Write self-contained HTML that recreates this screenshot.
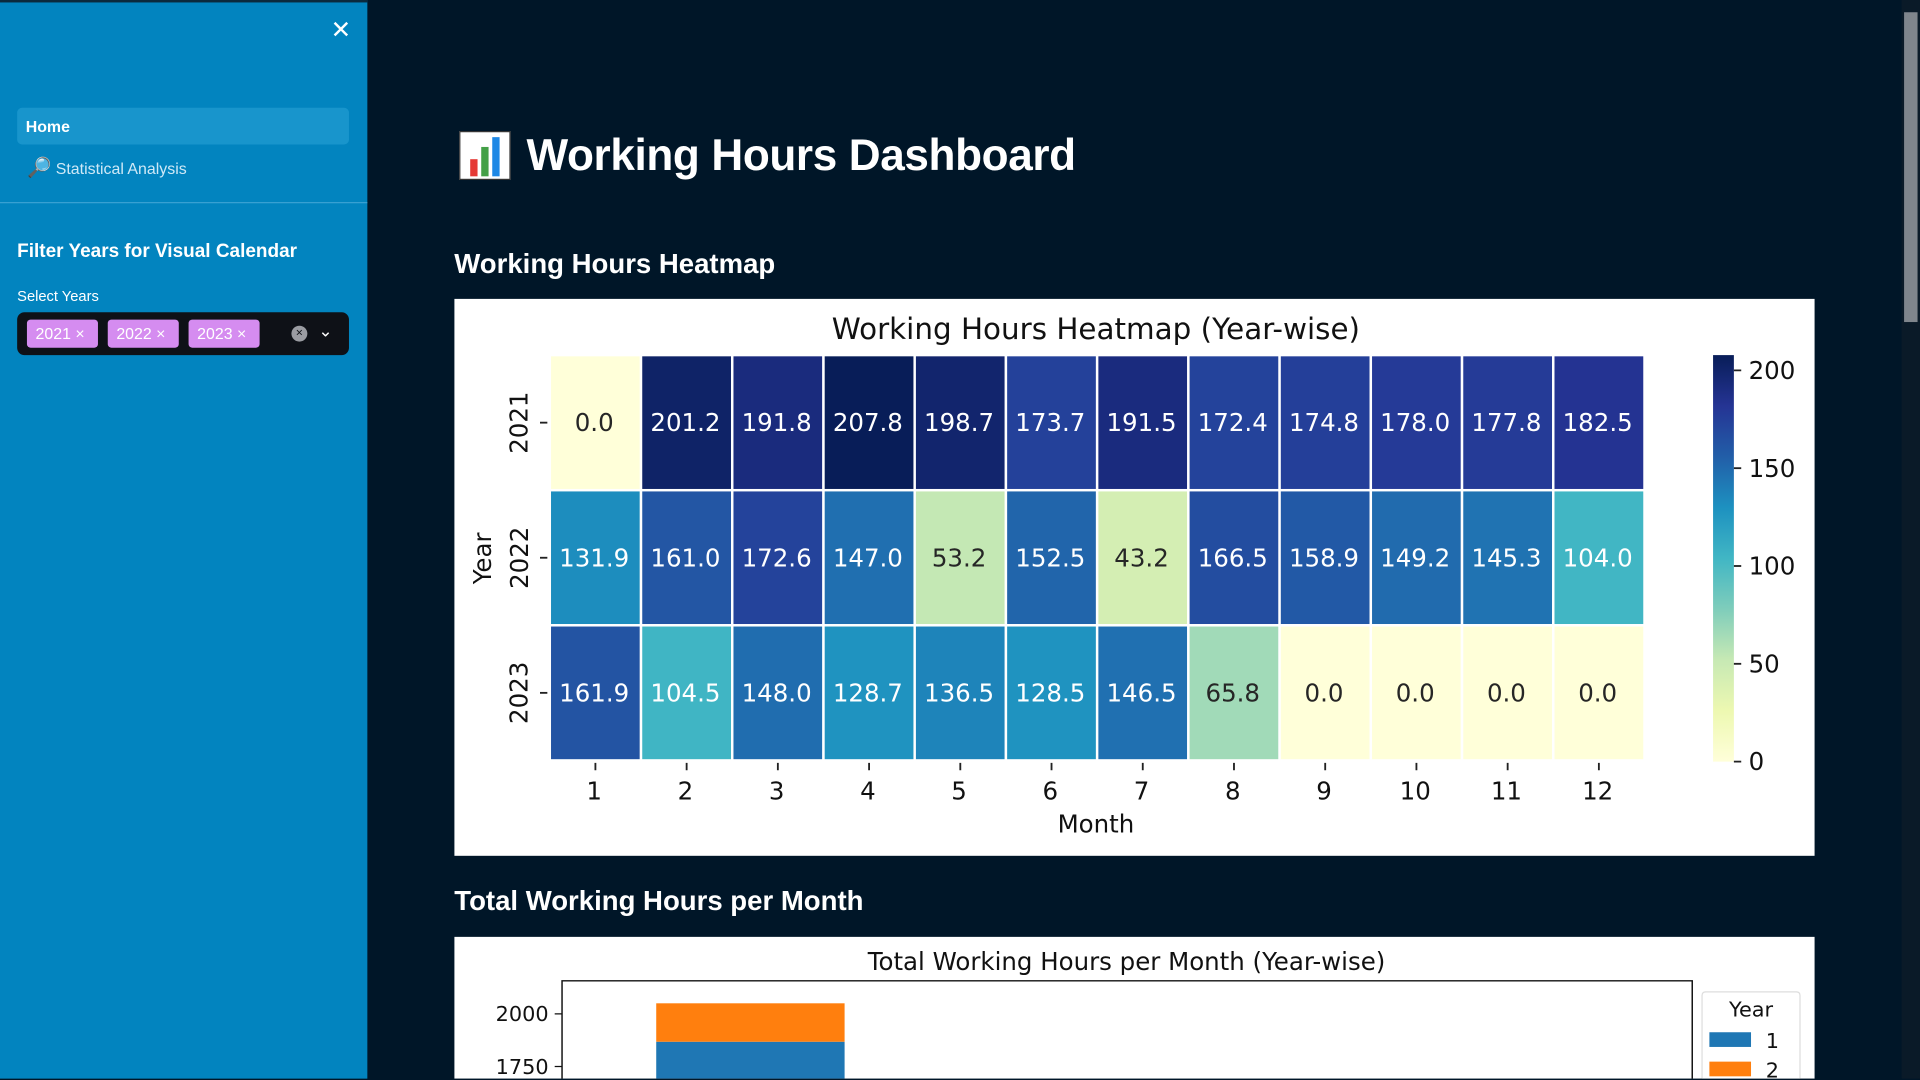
<!DOCTYPE html>
<html><head><meta charset="utf-8">
<style>
html,body{margin:0;padding:0;width:1920px;height:1080px;overflow:hidden;background:#001628;}
#wrap{position:absolute;left:0;top:0;width:1568px;height:881px;transform:scale(1.22449);transform-origin:0 0;background:#001628;font-family:"Liberation Sans",sans-serif;overflow:hidden;}
.abs{position:absolute;}
#sidebar{left:0;top:0;width:300px;height:881px;background:#0284bf;border-top:2px solid #0b2a3d;box-sizing:border-box;}
.tag{position:absolute;top:6px;height:23px;background:#d58cf0;color:#fff;font-size:13px;line-height:23px;padding-left:7px;box-sizing:border-box;border-radius:3px;}
</style></head><body>
<div id="wrap">
 <div id="sidebar" class="abs">
  <div class="abs" style="left:270px;top:10px;color:#fff;font-size:20px;">✕</div>
  <div class="abs" style="left:14px;top:86px;width:271px;height:30px;background:#1895cc;border-radius:4px;">
   <span style="position:absolute;left:7px;top:8px;color:#fff;font-weight:bold;font-size:13px;">Home</span></div>
  <div class="abs" style="left:22px;top:125px;font-size:13px;color:#cfe9f7;"><span style="font-size:16px;">🔎</span> Statistical Analysis</div>
  <div class="abs" style="left:0;top:163px;width:300px;height:1px;background:#3aa2d3;"></div>
  <div class="abs" style="left:14px;top:195px;font-size:15.5px;font-weight:bold;color:#fff;">Filter Years for Visual Calendar</div>
  <div class="abs" style="left:14px;top:233px;font-size:12px;color:#fff;">Select Years</div>
  <div class="abs" style="left:14px;top:253px;width:271px;height:35px;background:#0e1117;border-radius:6px;">
   <div class="tag" style="left:8px;width:58px;">2021 ×</div>
   <div class="tag" style="left:74px;width:58px;">2022 ×</div>
   <div class="tag" style="left:140px;width:58px;">2023 ×</div>
   <div class="abs" style="left:224px;top:11px;width:13px;height:13px;border-radius:50%;background:#9a9ca2;color:#0e1117;font-size:10px;line-height:13px;text-align:center;">×</div>
   <div class="abs" style="left:246px;top:7px;color:#fff;font-size:14px;">⌄</div>
  </div>
 </div>
 <div class="abs" style="left:1553px;top:0;width:15px;height:881px;background:#0a1a28;"><div style="position:absolute;left:2px;top:10px;width:11px;height:253px;background:#7f858c;"></div></div>
 <div class="abs" style="left:375px;top:107px;width:42px;height:40px;background:#fff;border:1px solid #333;box-sizing:border-box;">
  <div class="abs" style="left:8px;top:22px;width:6px;height:14px;background:#e53935"></div>
  <div class="abs" style="left:17px;top:12px;width:6px;height:24px;background:#43a047"></div>
  <div class="abs" style="left:26px;top:4px;width:6px;height:32px;background:#1e88e5"></div>
 </div>
 <div class="abs" style="left:430px;top:106px;font-size:36px;font-weight:bold;color:#fff;letter-spacing:-0.3px;">Working Hours Dashboard</div>
 <div class="abs" style="left:371px;top:203px;font-size:22.5px;font-weight:bold;color:#fff;">Working Hours Heatmap</div>
 <div class="abs" style="left:371px;top:723px;font-size:22.5px;font-weight:bold;color:#fff;">Total Working Hours per Month</div>

 <svg class="abs" id="hm" style="left:371px;top:244px;" width="1111" height="455"></svg>
 <svg class="abs" id="bar" style="left:371px;top:765px;" width="1111" height="116"></svg>
</div>
<script>
const years=['2021','2022','2023'];
const months=['1','2','3','4','5','6','7','8','9','10','11','12'];
const hours2021=[0.0,201.2,191.8,207.8,198.7,173.7,191.5,172.4,174.8,178.0,177.8,182.5];
const hours2022=[131.9,161.0,172.6,147.0,53.2,152.5,43.2,166.5,158.9,149.2,145.3,104.0];
const hours2023=[161.9,104.5,148.0,128.7,136.5,128.5,146.5,65.8,0.0,0.0,0.0,0.0];
const cbTicks=[0,50,100,150,200];
const barTicks=[1750,2000];

const NS='http://www.w3.org/2000/svg';
function mk(p,t,a,txt){const e=document.createElementNS(NS,t);for(const k in a)e.setAttribute(k,a[k]);if(txt!=null)e.textContent=txt;p.appendChild(e);return e;}
const stops=['#ffffd9','#edf8b1','#c7e9b4','#7fcdbb','#41b6c4','#1d91c0','#225ea8','#253494','#081d58'];
function hex(h){return [1,3,5].map(i=>parseInt(h.substr(i,2),16));}
function cmap(t){t=Math.max(0,Math.min(1,t));const f=t*(stops.length-1);const i=Math.min(Math.floor(f),stops.length-2);const r=f-i;const a=hex(stops[i]),b=hex(stops[i+1]);return 'rgb('+a.map((v,k)=>Math.round(v+(b[k]-v)*r)).join(',')+')';}

const hm=document.getElementById('hm');
const g=mk(hm,'g',{transform:'translate(-371,-244)'});
mk(g,'rect',{x:371,y:244,width:1111,height:455,fill:'#fff'});
const rows=[hours2021,hours2022,hours2023];
const all=rows.flat();const vmin=Math.min(...all),vmax=Math.max(...all);
const X0=449,X1=1343,Y0=290,Y1=621;
const cw=(X1-X0)/months.length,ch=(Y1-Y0)/years.length;
const xc=i=>X0+cw*(i+0.5), yc=j=>Y0+ch*(j+0.5);
const font='DejaVu Sans, Liberation Sans, sans-serif';
mk(g,'text',{x:895,y:277,'text-anchor':'middle','font-size':24,'font-family':font,fill:'#111'},'Working Hours Heatmap (Year-wise)');
rows.forEach((row,j)=>row.forEach((v,i)=>{
 const t=(v-vmin)/(vmax-vmin);
 const r=mk(g,'rect',{x:X0+cw*i,y:Y0+ch*j,width:cw,height:ch,fill:cmap(t),stroke:'#fff','stroke-width':2});
 
 
 const tx=mk(g,'text',{x:xc(i)-1,y:yc(j)+7,'text-anchor':'middle','font-size':20,'font-family':font,fill:t>0.4?'#fff':'#262626'},v.toFixed(1));
 
 
}));
months.forEach((m,i)=>{mk(g,'line',{x1:xc(i),x2:xc(i),y1:623,y2:629,stroke:'#222','stroke-width':1.5});mk(g,'text',{x:xc(i)-1,y:653,'text-anchor':'middle','font-size':20,'font-family':font,fill:'#111'},m);});
years.forEach((y,j)=>{mk(g,'line',{x1:441,x2:447,y1:yc(j),y2:yc(j),stroke:'#222','stroke-width':1.5});mk(g,'text',{x:431,y:yc(j),'text-anchor':'middle','font-size':20,'font-family':font,fill:'#111',transform:`rotate(-90 431 ${yc(j)})`},y);});
mk(g,'text',{x:895,y:680,'text-anchor':'middle','font-size':20,'font-family':font,fill:'#111'},'Month');
mk(g,'text',{x:401,y:456,'text-anchor':'middle','font-size':20,'font-family':font,fill:'#111',transform:'rotate(-90 401 456)'},'Year');
const defs=mk(g,'defs',{});const lg=mk(defs,'linearGradient',{id:'cb',x1:0,y1:1,x2:0,y2:0});
stops.forEach((s,i)=>mk(lg,'stop',{offset:i/(stops.length-1),'stop-color':s}));
const CB0=290,CB1=622;const cy=v=>CB1-(v-vmin)/(vmax-vmin)*(CB1-CB0);
mk(g,'rect',{x:1399,y:CB0,width:17,height:CB1-CB0,fill:'url(#cb)'});
cbTicks.forEach(v=>{mk(g,'line',{x1:1416,x2:1422,y1:cy(v),y2:cy(v),stroke:'#222','stroke-width':1.5});mk(g,'text',{x:1428,y:cy(v)+7,'font-size':20,'font-family':font,fill:'#111'},v);});

const bs=document.getElementById('bar');
const b=mk(bs,'g',{transform:'translate(-371,-765)'});
const BOT=881;
mk(b,'rect',{x:371,y:765,width:1111,height:BOT-765,fill:'#fff'});
mk(b,'text',{x:920,y:792,'text-anchor':'middle','font-size':20,'font-family':font,fill:'#111'},'Total Working Hours per Month (Year-wise)');
const AX0=459,AX1=1382;
const byv=v=>828-(v-2000)*0.172;
const band=(AX1-AX0)/years.length;
const tab10=['#1f77b4','#ff7f0e','#2ca02c','#d62728','#9467bd','#8c564b','#e377c2','#7f7f7f','#bcbd22','#17becf'];
years.forEach((y,j)=>{let cum=0;months.forEach((m,i)=>{const v=rows[j][i];
 const top=byv(cum+v), bot=Math.min(byv(cum),BOT); cum+=v;
 if(bot<=top||top>=BOT) return;
 const r=mk(b,'rect',{x:AX0+band*j+band*0.25,y:top,width:band*0.5,height:bot-top,fill:tab10[i%10]});
 
 
});});
mk(b,'path',{d:`M${AX0},${BOT} V801 H${AX1} V${BOT}`,fill:'none',stroke:'#111','stroke-width':1.2});
barTicks.forEach(v=>{mk(b,'line',{x1:453,x2:459,y1:byv(v),y2:byv(v),stroke:'#111'});mk(b,'text',{x:448,y:byv(v)+6,'text-anchor':'end','font-size':17,'font-family':font,fill:'#111'},v);});
mk(b,'path',{d:`M1390,${BOT} V813 Q1390,810 1393,810 H1467 Q1470,810 1470,813 V${BOT}`,fill:'#fff',stroke:'#ddd'});
mk(b,'text',{x:1430,y:830,'text-anchor':'middle','font-size':17,'font-family':font,fill:'#111'},'Year');
['1','2'].forEach((l,i)=>{mk(b,'rect',{x:1396,y:843+i*24,width:34,height:Math.min(12,BOT-(843+i*24)),fill:tab10[i]});mk(b,'text',{x:1442,y:856+i*24,'font-size':17,'font-family':font,fill:'#111'},l);});
</script>
</body></html>
